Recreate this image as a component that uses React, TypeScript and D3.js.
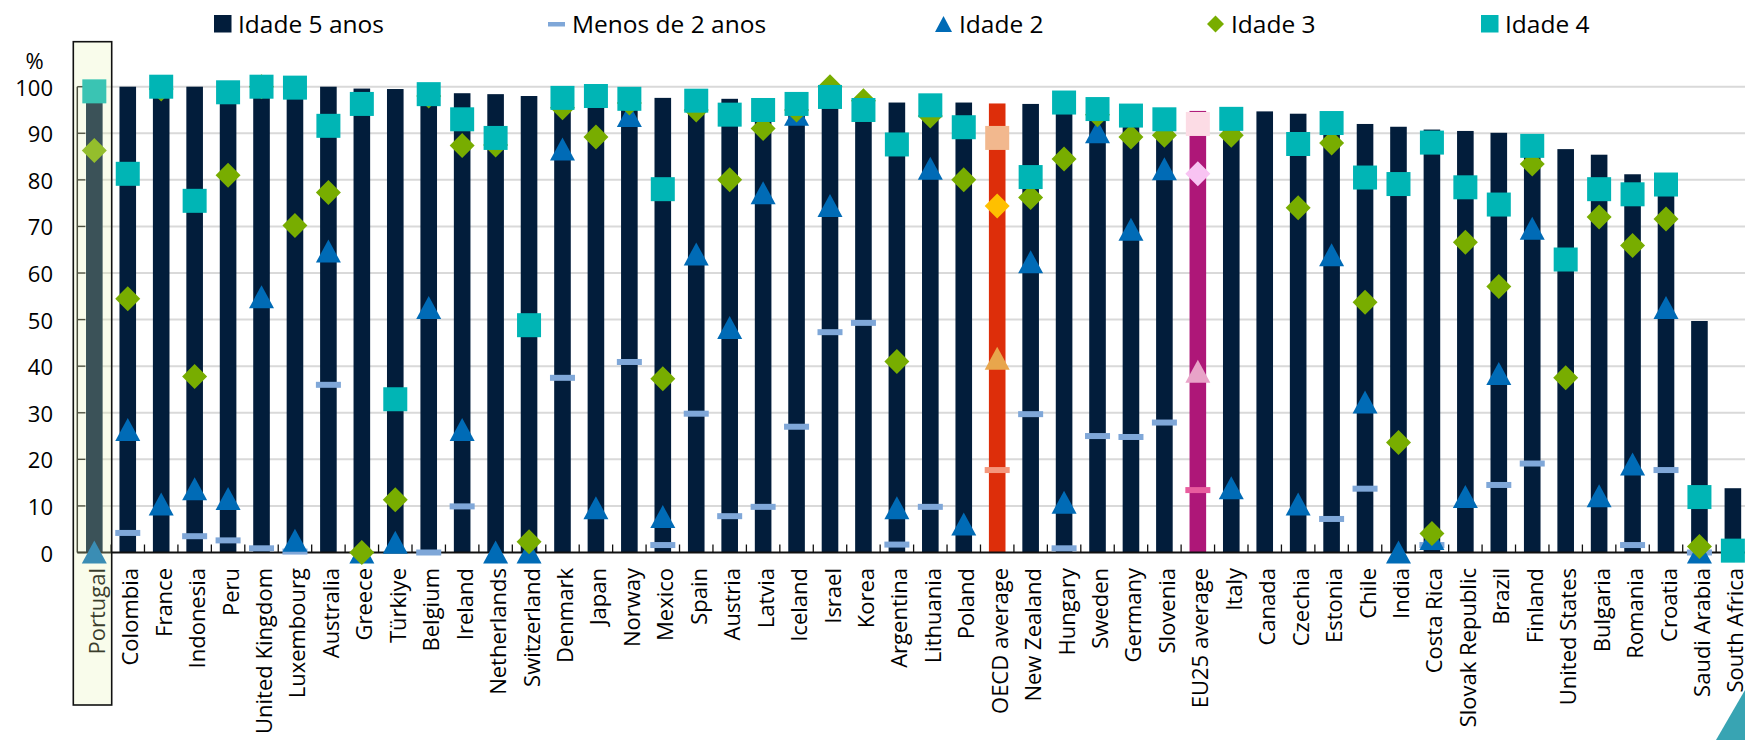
import React from "react";
import * as d3 from "d3";

const categories = [
  "Portugal", "Colombia", "France", "Indonesia", "Peru", "United Kingdom", "Luxembourg", "Australia",
  "Greece", "Türkiye", "Belgium", "Ireland", "Netherlands", "Switzerland", "Denmark", "Japan",
  "Norway", "Mexico", "Spain", "Austria", "Latvia", "Iceland", "Israel", "Korea", "Argentina",
  "Lithuania", "Poland", "OECD average", "New Zealand", "Hungary", "Sweden", "Germany", "Slovenia",
  "EU25 average", "Italy", "Canada", "Czechia", "Estonia", "Chile", "India", "Costa Rica",
  "Slovak Republic", "Brazil", "Finland", "United States", "Bulgaria", "Romania", "Croatia",
  "Saudi Arabia", "South Africa",
];

const age5: (number | null)[] = [
  99.5, 100, 100, 100, 99, 100, 100, 100, 99.6, 99.5, 98.8, 98.6, 98.4, 98, 98, 98,
  97.8, 97.6, 97.5, 97.4, 96.8, 97, 98, 96, 96.6, 97, 96.6, 96.4, 96.3, 96.5, 95.5, 94.5, 94,
  94.8, 93.5, 94.7, 94.2, 92.5, 92, 91.4, 90.8, 90.5, 90.1, 88, 86.6, 85.4, 81.2, 79.5, 49.7, 13.8,
];

const under2: (number | null)[] = [
  null, 4.2, null, 3.5, 2.6, 0.9, 0.2, 36, null, null, 0, 9.9, null, null, 37.5, null,
  40.9, 1.6, 29.8, 7.8, 9.8, 27, 47.3, 49.3, 1.7, 9.8, null, 17.7, 29.7, 0.9, 25, 24.8, 27.9,
  13.4, null, null, null, 7.2, 13.7, null, 1.6, null, 14.5, 19.1, null, null, 1.6, 17.7, 0, null,
];

const age2: (number | null)[] = [
  0, 26.3, 10.3, 13.6, 11.5, 54.8, 2.5, 64.6, 0, 2.1, 52.5, 26.3, 0, 0, 86.5, 9.5,
  93.7, 7.6, 64, 48.2, 77.1, 94, 74.4, null, 9.5, 82.4, 6, 41.6, 62.3, 10.7, 90.2, 69.3, 82.3,
  38.8, 13.8, null, 10.3, 63.8, 32.2, 0, 2.9, 11.9, 38.3, 69.5, null, 12.1, 18.9, 52.5, 0, null,
];

const age3: (number | null)[] = [
  86.3, 54.5, 99.5, 37.8, 81, 100, 70.2, 77.3, 0, 11.3, 98, 87.4, 87.5, 2.3, 95.5, 89.2,
  96.5, 37.3, 95, 80, 91, 95, 100, 97, 41, 93.7, 80, 74.4, 76.2, 84.5, 94, 89.2, 89.6,
  81.3, 89.6, null, 74, 87.9, 53.7, 23.6, 4.1, 66.6, 57.1, 83.4, 37.5, 72, 65.9, 71.6, 1.3, null,
];

const age4: (number | null)[] = [
  99, 81.3, 100, 75.5, 98.8, 100, 99.8, 91.6, 96.3, 32.9, 98.4, 93, 89, 48.8, 97.6, 98,
  97.4, 78, 97, 94, 95, 96.3, 97.8, 95, 87.6, 96, 91.3, 89, 80.6, 96.6, 95.2, 93.8, 93,
  92, 93.1, null, 87.7, 92.2, 80.5, 79.1, 88, 78.4, 74.7, 87.3, 62.9, 78, 76.9, 79, 11.9, 0.4,
];

const yTicks = [0, 10, 20, 30, 40, 50, 60, 70, 80, 90, 100];

const legendItems = [
  { label: "Idade 5 anos", kind: "bar", x: 214 },
  { label: "Menos de 2 anos", kind: "dash", x: 548 },
  { label: "Idade 2", kind: "tri", x: 935 },
  { label: "Idade 3", kind: "dia", x: 1207 },
  { label: "Idade 4", kind: "sq", x: 1481 },
];

const base = { bar: "#021D3B", dash: "#7FA7D8", tri: "#006BB6", dia: "#78AD00", sq: "#00B5B5" };
const oecd = { bar: "#DD2E0A", dash: "#F4977C", tri: "#E8A64C", dia: "#FFC000", sq: "#F2B88E" };
const eu = { bar: "#AE1778", dash: "#E85C9E", tri: "#E8A3C8", dia: "#F8C3F2", sq: "#FCDCE5" };

const FONT = "'Open Sans', sans-serif";

function colorsFor(name: string) {
  if (name === "OECD average") return oecd;
  if (name === "EU25 average") return eu;
  return base;
}

function Marker({ kind, cx, cy, fill }: { kind: string; cx: number; cy: number; fill: string }) {
  if (kind === "sq") return <rect x={cx - 12} y={cy - 12} width={24} height={24} fill={fill} />;
  if (kind === "dia") {
    const r = 12.5;
    return <path d={`M${cx},${cy - r}L${cx + r},${cy}L${cx},${cy + r}L${cx - r},${cy}Z`} fill={fill} />;
  }
  if (kind === "tri") {
    return <path d={`M${cx},${cy - 12}L${cx + 12.5},${cy + 11}L${cx - 12.5},${cy + 11}Z`} fill={fill} />;
  }
  if (kind === "dash") return <rect x={cx - 12.5} y={cy - 3} width={25} height={6} fill={fill} />;
  return null;
}

export default function App() {
  const x = d3.scaleBand<string>().domain(categories).range([77.6, 77.6 + 33.44 * categories.length]).padding(0);
  const y = d3.scaleLinear().domain([0, 100]).range([552.5, 86.7]);
  const bw = x.bandwidth();
  const barW = 16.6;
  const y0 = y(0);
  const axisX = 77.3;

  const series: { kind: string; data: (number | null)[] }[] = [
    { kind: "dash", data: under2 },
    { kind: "tri", data: age2 },
    { kind: "dia", data: age3 },
    { kind: "sq", data: age4 },
  ];

  const px = x("Portugal")! + bw / 2;

  return (
    <svg
      width={1745}
      height={740}
      style={{ position: "absolute", left: 0, top: 0, background: "#fff" }}
      fontFamily={FONT}
    >
      {/* legend */}
      {legendItems.map((it) => {
        const cy = 24;
        const c = (base as any)[it.kind === "bar" ? "bar" : it.kind];
        let mark: React.ReactNode = null;
        if (it.kind === "bar") mark = <rect x={it.x} y={15} width={17.5} height={17.5} fill={c} />;
        else if (it.kind === "dash") mark = <rect x={it.x} y={cy - 2} width={17} height={4.5} fill={c} />;
        else if (it.kind === "tri")
          mark = <path d={`M${it.x + 8.5},${cy - 8}L${it.x + 17},${cy + 8}L${it.x},${cy + 8}Z`} fill={c} />;
        else if (it.kind === "dia")
          mark = <path d={`M${it.x + 8.5},${cy - 8.5}L${it.x + 17},${cy}L${it.x + 8.5},${cy + 8.5}L${it.x},${cy}Z`} fill={c} />;
        else mark = <rect x={it.x} y={15} width={17.5} height={17.5} fill={c} />;
        return (
          <g key={it.label}>
            {mark}
            <text x={it.x + 24} y={32.5} fontSize={24.5} fill="#000">
              {it.label}
            </text>
          </g>
        );
      })}

      {/* % label */}
      <text x={34.5} y={68.5} fontSize={22} textAnchor="middle" fill="#000">%</text>

      {/* gridlines + y ticks */}
      {yTicks.map((t) => (
        <g key={t}>
          {t > 0 && <line x1={axisX} x2={1745} y1={y(t)} y2={y(t)} stroke="#D9D9D9" strokeWidth={2} />}
          <line x1={axisX} x2={axisX + 8} y1={y(t)} y2={y(t)} stroke="#1a1a1a" strokeWidth={1.3} />
          <text x={53} y={y(t)} fontSize={22} textAnchor="end" dominantBaseline="central" fill="#000">
            {t}
          </text>
        </g>
      ))}

      {/* bars */}
      {categories.map((c, i) =>
        age5[i] == null ? null : (
          <rect
            key={c}
            x={x(c)! + (bw - barW) / 2}
            y={y(age5[i]!)}
            width={barW}
            height={y0 - y(age5[i]!)}
            fill={colorsFor(c).bar}
          />
        )
      )}

      {/* axes */}
      <line x1={axisX} x2={axisX} y1={y(100)} y2={y0} stroke="#1a1a1a" strokeWidth={1.5} />
      <line x1={axisX} x2={1745} y1={y0} y2={y0} stroke="#111" strokeWidth={2} />
      {categories.map((c, i) =>
        i === 0 ? null : (
          <line key={c} x1={x(c)!} x2={x(c)!} y1={y0} y2={y0 - 8} stroke="#111" strokeWidth={1.3} />
        )
      )}

      {/* x labels */}
      {categories.map((c) => {
        const cx = x(c)! + bw / 2 + 1.5;
        return (
          <text
            key={c}
            transform={`translate(${cx},568) rotate(-90)`}
            fontSize={22}
            textAnchor="end"
            dominantBaseline="central"
            fill="#000"
          >
            {c}
          </text>
        );
      })}

      {/* markers */}
      {series.map((s) =>
        categories.map((c, i) => {
          const v = s.data[i];
          if (v == null) return null;
          const col = (colorsFor(c) as any)[s.kind];
          return <Marker key={s.kind + c} kind={s.kind} cx={x(c)! + bw / 2} cy={y(v)} fill={col} />;
        })
      )}

      {/* Portugal highlight */}
      <rect x={73.3} y={41.7} width={38.4} height={663.3} fill="#E6F5B0" fillOpacity={0.25} stroke="#111" strokeWidth={1.6} />

      {/* corner decoration */}
      <path d="M1716,740L1745,690L1760,740Z" fill="#38A4B3" />
    </svg>
  );
}
